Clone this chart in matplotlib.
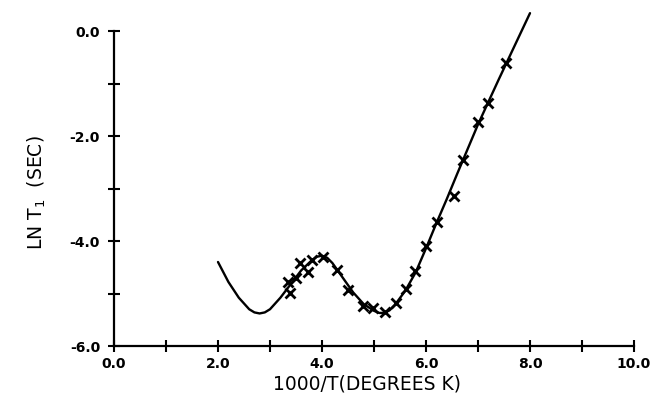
import matplotlib
matplotlib.use("Agg")
import matplotlib.pyplot as plt

# measured points (1000/T, ln T1)
data_x = [3.35, 3.38, 3.50, 3.58, 3.73, 3.80, 4.02, 4.29, 4.50, 4.79, 4.98, 5.21,
          5.42, 5.62, 5.79, 6.00, 6.21, 6.54, 6.71, 7.00, 7.19, 7.54]
data_y = [-4.78, -4.99, -4.71, -4.42, -4.59, -4.36, -4.30, -4.55, -4.93, -5.24, -5.27, -5.35,
          -5.18, -4.91, -4.57, -4.09, -3.63, -3.14, -2.46, -1.74, -1.38, -0.60]

# fitted curve
curve_x = [2.0, 2.2, 2.4, 2.6, 2.7, 2.8, 2.9, 3.0, 3.2, 3.4, 3.6, 3.8, 3.9, 4.0, 4.1, 4.2,
           4.4, 4.6, 4.8, 5.0, 5.1, 5.2, 5.3, 5.4, 5.6, 5.8, 6.0, 6.2, 6.4, 6.6, 6.8,
           7.0, 7.2, 7.4, 7.6, 7.8, 8.0]
curve_y = [-4.40, -4.78, -5.08, -5.30, -5.36, -5.38, -5.36, -5.30, -5.08, -4.82, -4.56, -4.37, -4.30,
           -4.28, -4.32, -4.42, -4.70, -4.98, -5.20, -5.33, -5.37, -5.37, -5.32, -5.22, -4.95,
           -4.60, -4.14, -3.66, -3.20, -2.72, -2.25, -1.78, -1.35, -0.92, -0.50, -0.08, 0.34]

x_ticks = [0, 2, 4, 6, 8, 10]
x_ticklabels = ["0.0", "2.0", "4.0", "6.0", "8.0", "10.0"]
y_ticks = [-6, -4, -2, 0]
y_ticklabels = ["-6.0", "-4.0", "-2.0", "0.0"]

fig = plt.figure(figsize=(6.52, 3.99), dpi=100)
ax = fig.add_axes([114/652, 53/399, 520/652, 336/399])

ax.plot(curve_x, curve_y, color="black", lw=1.7, solid_capstyle="round")
ax.plot(data_x, data_y, linestyle="none", marker="x", color="black",
        markersize=7.5, markeredgewidth=2.0)

ax.set_xlim(0, 10)
ax.set_ylim(-6, 0.4)
for s in ["top", "right"]:
    ax.spines[s].set_visible(False)
ax.spines["left"].set_bounds(-6, 0)
ax.spines["left"].set_linewidth(1.6)
ax.spines["bottom"].set_linewidth(1.6)

ax.set_xticks(x_ticks)
ax.set_xticklabels(x_ticklabels, fontsize=10, fontweight="bold")
ax.set_xticks([1, 3, 5, 7, 9], minor=True)
ax.set_yticks(y_ticks)
ax.set_yticklabels(y_ticklabels, fontsize=10, fontweight="bold")
ax.set_yticks([-5, -3, -1], minor=True)
ax.tick_params(which="both", direction="inout", length=8, width=1.5, color="black")
ax.tick_params(axis="y", which="major", pad=6)
ax.tick_params(axis="x", which="major", pad=4)

ax.set_xlabel("1000/T(DEGREES K)", fontsize=13.5)
ax.xaxis.set_label_coords(0.487, -0.086)
ax.set_ylabel("LN T$_1$  (SEC)", fontsize=13.5)
ax.yaxis.set_label_coords(-0.127, 0.455)

fig.savefig("out.png", dpi=100)
